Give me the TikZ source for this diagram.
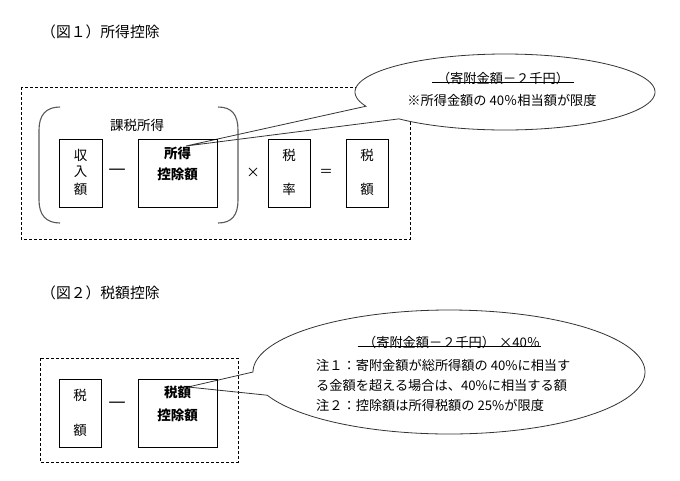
\documentclass[tikz,border=0pt]{standalone}
\usepackage{fontspec}
\setmainfont{Noto Sans CJK JP}
\newfontfamily\dvfont{DejaVu Sans}
\begin{document}
\begin{tikzpicture}[x=1pt,y=-1pt,
  box/.style={draw, line width=0.8pt, inner sep=0pt},
  frame/.style={draw, line width=0.7pt, dash pattern=on 3pt off 2pt},
  paren/.style={draw=black!65, line width=1.1pt},
  callout/.style={draw=black!80, line width=0.8pt},
  txt/.style={inner sep=0pt, font=\fontsize{13.5}{16}\selectfont},
  btxt/.style={inner sep=0pt, font=\fontsize{13.5}{16}\selectfont\bfseries},
  dashtxt/.style={inner sep=0pt, font=\dvfont\fontsize{17.5}{18}\selectfont},
  ctxt/.style={inner sep=0pt, font=\fontsize{13.2}{15}\selectfont},
  ttl/.style={inner sep=0pt, anchor=west, font=\fontsize{14.8}{17}\selectfont}]
\useasboundingbox (0,0) rectangle (680,480);
% ---------- figure 1 ----------
\node[ttl] (title1) at (41,32) {（図１）所得控除};
\draw[frame] (21,87) rectangle (410,239);
% callout 1
\coordinate (c1) at (505,92);
\coordinate (t1) at (186,146);
\fill[white] (c1) ellipse [x radius=150, y radius=38];
\draw[callout] (t1) -- plot[domain=158:495, samples=140, smooth] ({505+150*cos(\x)},{92+38*sin(\x)}) -- cycle;
\node[ctxt] (h1) at (503,78) {（寄附金額－２千円）};
\draw[line width=0.7pt] ([xshift=-5pt,yshift=2pt]h1.south west) -- ([xshift=5pt,yshift=2pt]h1.south east);
\node[ctxt] (n1) at (502,100) {※所得金額の 40％相当額が限度};
% parentheses
\draw[paren] (60,107) .. controls (46,107) and (39,115) .. (39,130) -- (39,200) .. controls (39,215) and (46,223) .. (60,223);
\draw[paren] (218,107) .. controls (232,107) and (238,115) .. (238,130) -- (238,200) .. controls (238,215) and (232,223) .. (218,223);
\node[txt] (kazei) at (137,125) {課税所得};
% boxes
\node[box, minimum width=43, minimum height=68] (b1a) at (80.5,173) {};
\node[box, minimum width=79, minimum height=68] (b1b) at (177.5,173) {};
\node[box, minimum width=42, minimum height=68] (b1c) at (289,173) {};
\node[box, minimum width=42, minimum height=68] (b1d) at (367,173) {};
\node[txt] (s1) at (80.5,155) {収};
\node[txt] (s2) at (80.5,172) {入};
\node[txt] (s3) at (80.5,189) {額};
\node[btxt] (k1) at (177.5,153) {所得};
\node[btxt] (k2) at (177.5,174) {控除額};
\node[txt] (r1) at (289,155) {税};
\node[txt] (r2) at (289,189) {率};
\node[txt] (g1) at (367,155) {税};
\node[txt] (g2) at (367,189) {額};
\node[dashtxt] (minus1) at (117,172) {—};
\node[txt] (times1) at (253,173) {×};
\node[txt] (eq1) at (326,173) {＝};
% ---------- figure 2 ----------
\node[ttl] (title2) at (41,293) {（図２）税額控除};
\draw[frame] (40,358) rectangle (238,462);
\coordinate (c2) at (449,372);
\coordinate (t2) at (188,387);
\fill[white] (c2) ellipse [x radius=196, y radius=62];
\draw[callout] (t2) -- plot[domain=180:518, samples=160, smooth] ({449+196*cos(\x)},{372+62*sin(\x)}) -- cycle;
\node[ctxt] (h2) at (449,342) {\hspace{0.4em}（寄附金額－２千円）\hspace{0.3em}×40％};
\draw[line width=0.7pt] ([yshift=2pt]h2.south west) -- ([xshift=1pt,yshift=2pt]h2.south east);
\node[ctxt, anchor=west] (m1) at (316,365) {注１：寄附金額が総所得額の 40\%に相当す};
\node[ctxt, anchor=west] (m2) at (316,385) {る金額を超える場合は、40\%に相当する額};
\node[ctxt, anchor=west] (m3) at (316,405) {注２：控除額は所得税額の 25\%が限度};
\node[box, minimum width=42, minimum height=68] (b2a) at (80,413) {};
\node[box, minimum width=79, minimum height=68] (b2b) at (177.5,413) {};
\node[txt] (z1) at (80,395) {税};
\node[txt] (z2) at (80,430) {額};
\node[btxt] (y1) at (177.5,392) {税額};
\node[btxt] (y2) at (177.5,415) {控除額};
\node[dashtxt] (minus2) at (117,405) {—};
\end{tikzpicture}
\end{document}
